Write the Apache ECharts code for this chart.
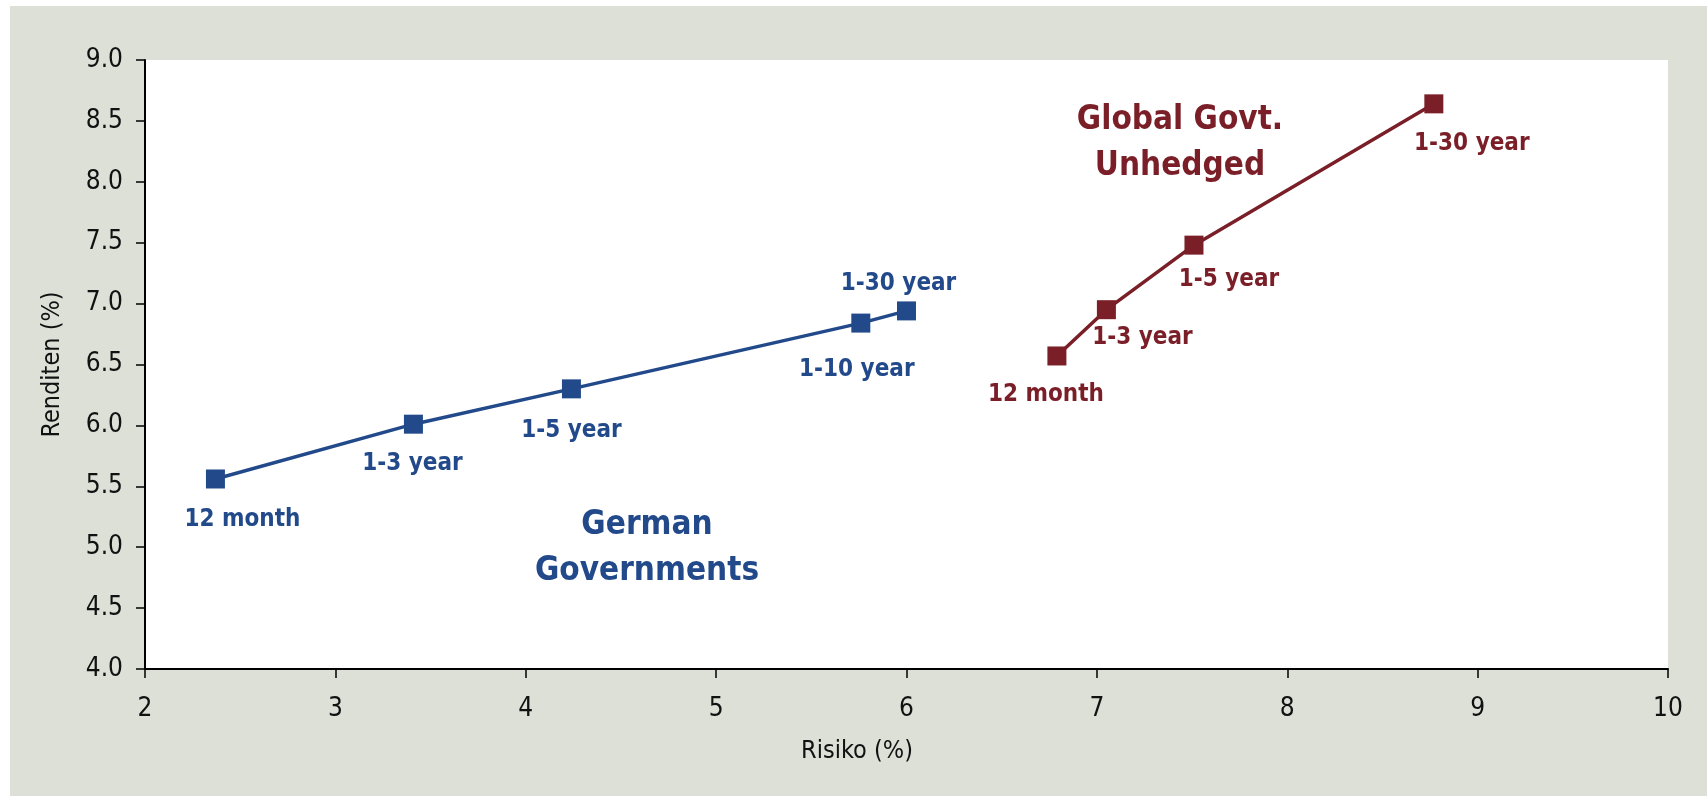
<!DOCTYPE html>
<html>
<head>
<meta charset="utf-8">
<script src="https://cdn.jsdelivr.net/npm/echarts@6/dist/echarts.min.js"></script>
<style>
  html, body { margin: 0; padding: 0; background: #fff; }
  #myChart { position: absolute; left: 10px; top: 6px; width: 1697px; height: 790px; }
</style>
</head>
<body>
<div id="myChart"></div>
<script>
// German Governments (blau)
var germanNames = ['12 month', '1-3 year', '1-5 year', '1-10 year', '1-30 year']
var germanRisk = [2.37, 3.41, 4.24, 5.76, 6.0]
var germanYield = [5.56, 6.01, 6.30, 6.84, 6.94]

// Global Govt. Unhedged (rot)
var globalNames = ['12 month', '1-3 year', '1-5 year', '1-30 year']
var globalRisk = [6.79, 7.05, 7.51, 8.77]
var globalYield = [6.57, 6.95, 7.48, 8.64]

var xTicks = [2, 3, 4, 5, 6, 7, 8, 9, 10]
var yTicks = [4.0, 4.5, 5.0, 5.5, 6.0, 6.5, 7.0, 7.5, 8.0, 8.5, 9.0]

var fontNarrow = '"Liberation Sans Narrow", "DejaVu Sans Condensed", "Liberation Sans", sans-serif'
var blue = '#224a8b'
var red = '#7a1e27'

// label offsets relative to each marker
var germanOffsets = [[27, 41], [-1, 40], [0, 42], [-4, 47], [-8, -27]]
var globalOffsets = [[-11, 39], [36, 28], [35, 35], [38, 40]]

function buildData (xs, ys, names, offsets) {
  return xs.map(function (x, i) {
    return {
      value: [x, ys[i]],
      name: names[i],
      label: { offset: offsets[i] }
    }
  })
}

function lineSeries (name, color, data) {
  return {
    name: name,
    type: 'line',
    symbol: 'rect',
    symbolSize: 19,
    lineStyle: { width: 3.5, color: color },
    itemStyle: { color: color },
    label: {
      show: true,
      position: 'inside',
      formatter: '{b}',
      color: color,
      fontFamily: fontNarrow,
      fontWeight: 'bold',
      fontSize: 24
    },
    emphasis: { disabled: true },
    data: data
  }
}

var myChart = echarts.init(document.getElementById('myChart'))
var option = {
  backgroundColor: '#dce0d7',
  animation: false,
  grid: {
    left: 135,
    top: 54,
    right: 39,
    bottom: 127,
    show: true,
    backgroundColor: '#fff',
    borderWidth: 0
  },
  xAxis: {
    type: 'value',
    min: xTicks[0],
    max: xTicks[xTicks.length - 1],
    interval: 1,
    axisLine: { lineStyle: { color: '#000', width: 2 } },
    axisTick: { length: 9, lineStyle: { color: '#000', width: 1.5 } },
    axisLabel: {
      margin: 27,
      color: '#111',
      fontFamily: fontNarrow,
      fontSize: 26
    },
    splitLine: { show: false }
  },
  yAxis: {
    type: 'value',
    min: yTicks[0],
    max: yTicks[yTicks.length - 1],
    interval: 0.5,
    name: 'Renditen (%)',
    nameLocation: 'middle',
    nameGap: 80,
    nameTextStyle: { color: '#111', fontFamily: fontNarrow, fontSize: 25 },
    axisLine: { lineStyle: { color: '#000', width: 2 } },
    axisTick: { length: 9, lineStyle: { color: '#000', width: 1.5 } },
    axisLabel: {
      margin: 22,
      color: '#111',
      fontFamily: fontNarrow,
      fontSize: 26,
      formatter: function (v) { return v.toFixed(1) }
    },
    splitLine: { show: false }
  },
  graphic: [
    {
      type: 'text',
      x: 857 - 10,
      y: 751 - 6,
      style: {
        text: 'Risiko (%)',
        fill: '#111',
        font: '25px ' + fontNarrow,
        textAlign: 'center',
        textVerticalAlign: 'middle'
      }
    },
    {
      type: 'text',
      x: 647 - 10,
      y: 548 - 6,
      style: {
        text: 'German\nGovernments',
        fill: blue,
        font: 'bold 33px ' + fontNarrow,
        textAlign: 'center',
        textVerticalAlign: 'middle',
        lineHeight: 46
      }
    },
    {
      type: 'text',
      x: 1180 - 10,
      y: 143 - 6,
      style: {
        text: 'Global Govt.\nUnhedged',
        fill: red,
        font: 'bold 33px ' + fontNarrow,
        textAlign: 'center',
        textVerticalAlign: 'middle',
        lineHeight: 46
      }
    }
  ],
  series: [
    lineSeries('German Governments', blue, buildData(germanRisk, germanYield, germanNames, germanOffsets)),
    lineSeries('Global Govt. Unhedged', red, buildData(globalRisk, globalYield, globalNames, globalOffsets))
  ]
}
myChart.setOption(option)
window.onresize = function () {
  myChart.resize()
}
</script>
</body>
</html>
